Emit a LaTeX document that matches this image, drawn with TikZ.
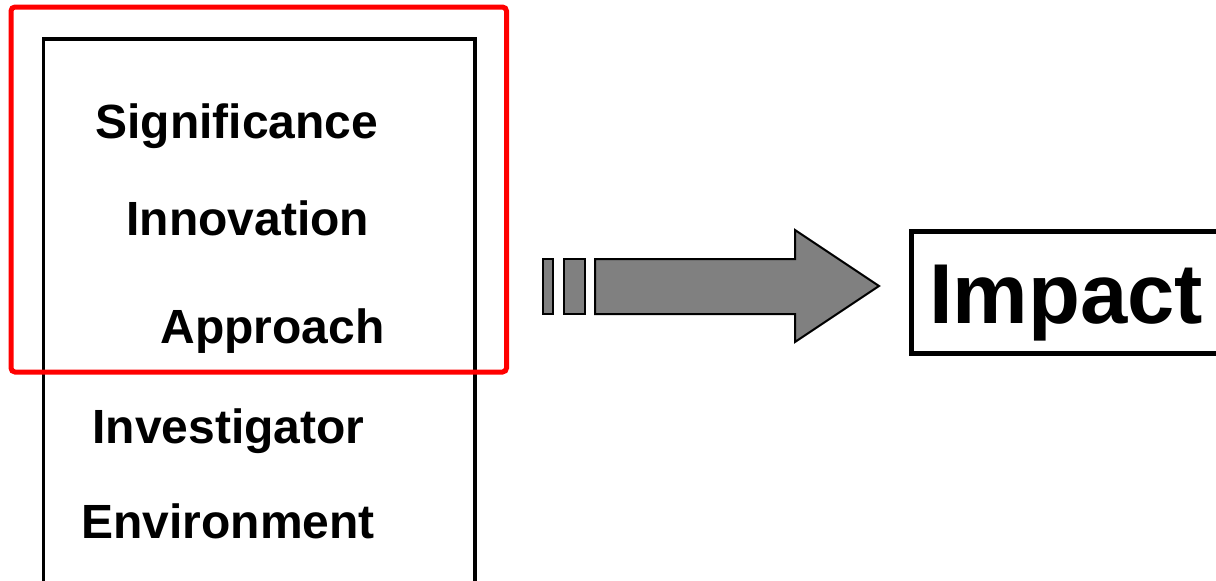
\documentclass[tikz,border=0pt]{standalone}
\usepackage{fontspec}
\setmainfont{Liberation Sans}
\usepackage{tikz}

\begin{document}
\begin{tikzpicture}[x=0.5pt, y=-0.5pt, inner sep=0pt]
            \useasboundingbox (0,0) rectangle (1216,580);

            \tikzstyle{crit}=[anchor=base west, font=\fontsize{24}{28}\selectfont\bfseries];
            \tikzstyle{arrowpart}=[fill=black!50, draw=black, line width=1pt, line join=miter];
            % criteria list
            \draw[line width=1.65pt] (43.5,620) -- (43.5,39) -- (475,39) -- (475,620);
            \node[crit] (sig) at (95,138) {Significance};
            \node[crit] (innov) at (126,235) {Innovation};
            \node[crit] (appr) at (160,343) {Approach};
            \node[crit] (invest) at (92,443) {Investigator};
            \node[crit] (env) at (81,538) {Environment};
            \draw[red, line width=2.5pt, rounded corners=2pt] (11,7) rectangle (506.5,372);
            % block arrow
            \foreach \a/\b in {542.7/553.3, 563.7/585}
               \draw[arrowpart] (\a,259) rectangle (\b,314);
            \draw[arrowpart] (595,259) -- (795,259) -- (795,230) -- (879,286)
               -- (795,342) -- (795,314) -- (595,314) -- cycle;
            % result
            \draw[line width=2.5pt] (1240,231) -- (911,231) -- (911,353) -- (1240,353);
            \node[anchor=base, font=\fontsize{42.5}{48}\selectfont\bfseries] (impact) at (1066,323) {Impact};
         \end{tikzpicture}
\end{document}
